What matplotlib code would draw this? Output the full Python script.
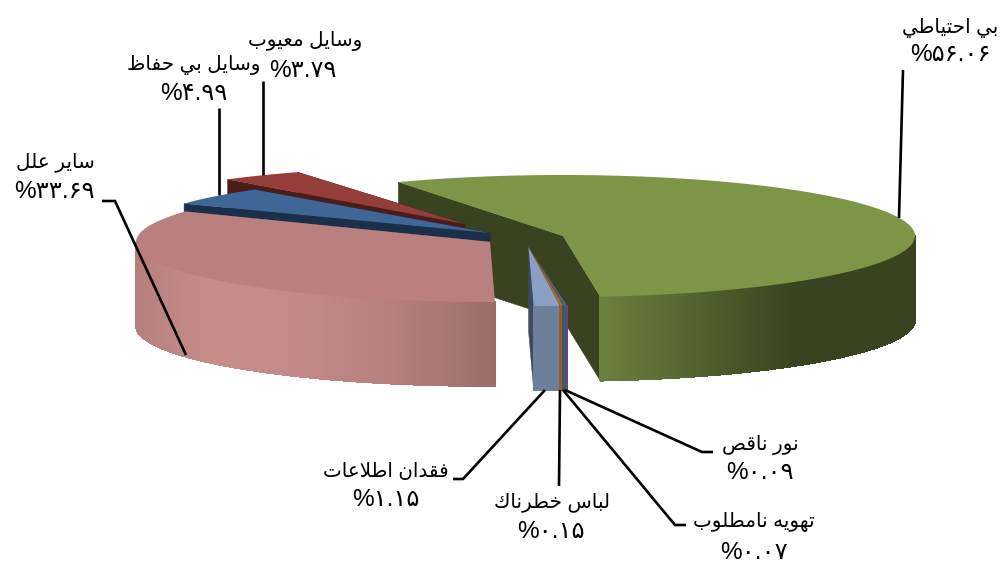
import numpy as np
import matplotlib
matplotlib.use("Agg")
import matplotlib.pyplot as plt
from matplotlib.patches import Polygon
from matplotlib.colors import to_rgb

# ---- data (clockwise, starting at the green slice)
labels = ["بي احتياطي", "نور ناقص", "تهويه نامطلوب", "لباس خطرناك",
          "فقدان اطلاعات", "ساير علل", "وسايل بي حفاظ", "وسايل معيوب"]
values = [56.06, 0.09, 0.07, 0.15, 1.15, 33.69, 4.99, 3.79]

# ---- style: one entry per slice
top_colors = ["#7d9547", "#6a5a90", "#2f6f80", "#b5651d", "#8a9fc4", "#ba8080", "#3e6697", "#953d39"]
wall_colors = ["#39431f", "#5a4d7c", "#2a6070", "#a05c1c", "#3d4a60", "#8a5a58", "#1a2f4a", "#4b1c1a"]
tip_x = [563, 528.5, 528.5, 528.5, 528.5, 490, 490, 465]
tip_y = [236, 247, 247, 247, 247, 242, 233, 224]
ell_y = [236, 247, 247, 247, 247, 242, 233, 219]
rad_x = [352, 365, 365, 365, 365, 354, 355, 358]
rad_y = [61, 59, 59, 59, 59, 60, 58, 53]
start_angle = -27.9
depth = 84
draw_order = [0, 7, 6, 5, 4, 3, 2, 1]

# ---- label layout: centre of name line, centre of value line, leader path
name_xy = [(950, 28), (760, 445), (754, 522), (552, 502), (386, 472), (55, 162), (194, 65), (305, 41)]
value_xy = [(950, 55), (760, 473), (754, 553), (551, 532), (386, 500), (54, 192), (194, 94), (303, 71)]
leaders = [[(903, 70), (899, 218)],
           [(565, 390), (702, 452), (713, 452)],
           [(563, 390), (675, 525), (686, 525)],
           [(560, 390), (559, 486)],
           [(545, 390), (463, 479), (453, 479)],
           [(102, 201), (115, 201), (186, 355)],
           [(219, 108), (219, 195)],
           [(263, 81), (263, 175)]]

FONT = ["Liberation Sans", "DejaVu Sans"]
FS_NAME = 14.3
FS_VALUE = 17.5

# ---- minimal Arabic-script shaper: isolated, final, initial, medial forms
FORMS = {
    "ا": (0xFE8D, 0xFE8E), "د": (0xFEA9, 0xFEAA), "ر": (0xFEAD, 0xFEAE), "و": (0xFEED, 0xFEEE),
    "ب": (0xFE8F, 0xFE90, 0xFE91, 0xFE92), "ت": (0xFE95, 0xFE96, 0xFE97, 0xFE98),
    "ح": (0xFEA1, 0xFEA2, 0xFEA3, 0xFEA4), "خ": (0xFEA5, 0xFEA6, 0xFEA7, 0xFEA8),
    "س": (0xFEB1, 0xFEB2, 0xFEB3, 0xFEB4), "ص": (0xFEB9, 0xFEBA, 0xFEBB, 0xFEBC),
    "ط": (0xFEC1, 0xFEC2, 0xFEC3, 0xFEC4), "ظ": (0xFEC5, 0xFEC6, 0xFEC7, 0xFEC8),
    "ع": (0xFEC9, 0xFECA, 0xFECB, 0xFECC), "ف": (0xFED1, 0xFED2, 0xFED3, 0xFED4),
    "ق": (0xFED5, 0xFED6, 0xFED7, 0xFED8), "ل": (0xFEDD, 0xFEDE, 0xFEDF, 0xFEE0),
    "م": (0xFEE1, 0xFEE2, 0xFEE3, 0xFEE4), "ن": (0xFEE5, 0xFEE6, 0xFEE7, 0xFEE8),
    "ه": (0xFEE9, 0xFEEA, 0xFEEB, 0xFEEC), "ي": (0xFEF1, 0xFEF2, 0xFEF3, 0xFEF4),
    "ك": (0xFED9, 0xFEDA, 0xFEDB, 0xFEDC),
}


def shape(text):
    text = text.replace("لا", "\uE000")
    out = []
    for i, ch in enumerate(text):
        prev = text[i - 1] if i > 0 else " "
        nxt = text[i + 1] if i + 1 < len(text) else " "
        from_prev = prev in FORMS and len(FORMS[prev]) == 4
        to_next = nxt in FORMS or nxt == "\uE000"
        if ch == "\uE000":
            out.append(chr(0xFEFC if from_prev else 0xFEFB))
        elif ch in FORMS:
            f = FORMS[ch]
            if len(f) == 2:
                out.append(chr(f[1] if from_prev else f[0]))
            elif from_prev and to_next:
                out.append(chr(f[3]))
            elif from_prev:
                out.append(chr(f[1]))
            elif to_next:
                out.append(chr(f[2]))
            else:
                out.append(chr(f[0]))
        else:
            out.append(ch)
    return "".join(reversed(out))


def persian_value(v):
    digits = f"{v:.2f}".translate(str.maketrans("0123456789", "۰۱۲۳۴۵۶۷۸۹"))
    return "%" + digits


def lerp_color(c0, c1, t):
    c0, c1 = np.array(to_rgb(c0)), np.array(to_rgb(c1))
    return tuple(c0 + (c1 - c0) * float(np.clip(t, 0, 1)))


def wall_shade(i, x):
    if i == 0:
        return lerp_color("#6c803e", "#39431f", (x - 603) / 190)
    if i == 5:
        if x < 210:
            return lerp_color("#b67f7e", "#c58c8a", (x - 136) / 74)
        return lerp_color("#c58c8a", "#9c6c6a", ((x - 210) / 285) ** 2)
    if i == 4:
        return "#6e7f9c"
    return wall_colors[i]


fig = plt.figure(figsize=(10.03, 5.64), dpi=100, facecolor="white")
ax = fig.add_axes([0, 0, 1, 1])
ax.set_xlim(0, 1003)
ax.set_ylim(564, 0)
ax.axis("off")

sweeps = np.array(values) / sum(values) * 360.0
starts = start_angle + np.concatenate([[0], np.cumsum(sweeps)[:-1]])


def rim(i, theta_deg):
    t = np.radians(theta_deg)
    return tip_x[i] + rad_x[i] * np.sin(t), ell_y[i] - rad_y[i] * np.cos(t)


for i in draw_order:
    a0, a1 = starts[i], starts[i] + sweeps[i]
    tip = (tip_x[i], tip_y[i])
    p0, p1 = rim(i, a0), rim(i, a1)
    # radial walls
    for p in (p0, p1):
        if i == 5 and p is p0:
            continue
        if 0 < i < 5 and p is p0:
            continue
        if i == 4 or i == 0 or i >= 5:
            quad = [tip, p, (p[0], p[1] + depth), (tip[0], tip[1] + depth)]
            ax.add_patch(Polygon(quad, closed=True, fc=wall_colors[i], ec=wall_colors[i], lw=0.3, zorder=1))
    # front wall, drawn as shaded strips along the rim
    n = max(2, int(sweeps[i] * 6))
    th = np.linspace(a0, a1, n + 1)
    for t0, t1 in zip(th[:-1], th[1:]):
        mid = 0.5 * (t0 + t1)
        if not (90 <= mid % 360 <= 270):
            continue
        q0, q1 = rim(i, t0), rim(i, t1)
        quad = [q0, q1, (q1[0], q1[1] + depth), (q0[0], q0[1] + depth)]
        col = wall_shade(i, 0.5 * (q0[0] + q1[0]))
        ax.add_patch(Polygon(quad, closed=True, fc=col, ec=col, lw=0.6, zorder=1, antialiased=False))
    # top face
    xs, ys = rim(i, np.linspace(a0, a1, max(3, int(sweeps[i] * 2) + 1)))
    pts = [tip] + list(zip(xs, ys))
    ax.add_patch(Polygon(pts, closed=True, fc=top_colors[i], ec="none", zorder=1))

for path in leaders:
    xs, ys = zip(*path)
    ax.plot(xs, ys, color="black", lw=1.9, solid_capstyle="butt", solid_joinstyle="miter", zorder=3)

for name, val, nxy, vxy in zip(labels, values, name_xy, value_xy):
    ax.text(nxy[0], nxy[1], shape(name), family=FONT, fontsize=FS_NAME, ha="center", va="center", color="black", zorder=4)
    ax.text(vxy[0], vxy[1], persian_value(val), family=FONT, fontsize=FS_VALUE, ha="center", va="center", color="black", zorder=4)

fig.savefig("out.png", dpi=100, facecolor="white")
